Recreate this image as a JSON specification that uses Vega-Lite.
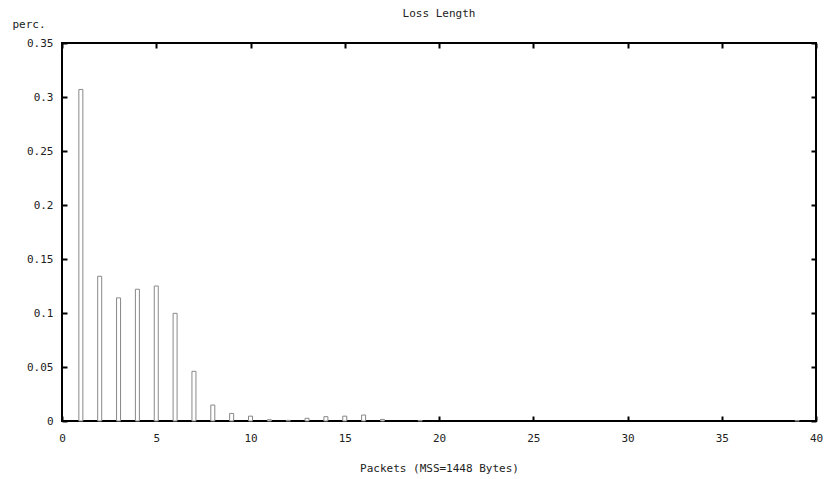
{
  "$schema": "https://vega.github.io/schema/vega-lite/v6.json",
  "autosize": "none",
  "padding": {"left": 62, "top": 43, "right": 8, "bottom": 58},
  "width": 754,
  "height": 378,
  "background": "white",
  "title": {"text": "Loss Length", "anchor": "middle", "offset": -1, "font": "DejaVu Sans Mono", "fontSize": 11, "fontWeight": "normal", "color": "#222"},
  "config": {
    "view": {"stroke": "black", "strokeWidth": 2},
    "axis": {"grid": false, "domain": false, "tickColor": "black", "tickWidth": 2, "tickSize": -5, "labelFlush": false, "labelFont": "DejaVu Sans Mono", "labelFontSize": 11, "labelColor": "#222", "titleFont": "DejaVu Sans Mono", "titleFontSize": 11, "titleFontWeight": "normal", "titleColor": "#222"}
  },
  "data": {"values": [
    {"packets": 1, "perc": 0.307},
    {"packets": 2, "perc": 0.134},
    {"packets": 3, "perc": 0.114},
    {"packets": 4, "perc": 0.122},
    {"packets": 5, "perc": 0.125},
    {"packets": 6, "perc": 0.0997},
    {"packets": 7, "perc": 0.046},
    {"packets": 8, "perc": 0.0148},
    {"packets": 9, "perc": 0.007},
    {"packets": 10, "perc": 0.0045},
    {"packets": 11, "perc": 0.0012},
    {"packets": 12, "perc": 0.0006},
    {"packets": 13, "perc": 0.0025},
    {"packets": 14, "perc": 0.004},
    {"packets": 15, "perc": 0.0045},
    {"packets": 16, "perc": 0.0055},
    {"packets": 17, "perc": 0.0015},
    {"packets": 19, "perc": 0.0005},
    {"packets": 39, "perc": 0.0005}
  ]},
  "layer": [
    {
      "mark": {"type": "bar", "size": 4, "fill": "white", "stroke": "#888", "strokeWidth": 1},
      "encoding": {
        "x": {"field": "packets", "type": "quantitative", "scale": {"domain": [0, 40], "nice": false, "padding": 0},
              "axis": {"orient": "bottom", "values": [0,5,10,15,20,25,30,35,40], "labelPadding": 16, "title": "Packets (MSS=1448 Bytes)", "titlePadding": 19}},
        "y": {"field": "perc", "type": "quantitative", "scale": {"domain": [0, 0.35], "nice": false},
              "axis": {"orient": "left", "values": [0,0.05,0.1,0.15,0.2,0.25,0.3,0.35], "format": ".2~f", "labelPadding": 14, "title": "perc.", "titleAngle": 0, "titleX": -50, "titleY": -16, "titleAlign": "left", "titleBaseline": "alphabetic"}}
      }
    },
    {
      "mark": {"type": "point", "opacity": 0},
      "encoding": {
        "x": {"field": "packets", "type": "quantitative", "axis": {"orient": "top", "values": [0,5,10,15,20,25,30,35,40], "labels": false, "title": null}},
        "y": {"field": "perc", "type": "quantitative", "axis": {"orient": "right", "values": [0,0.05,0.1,0.15,0.2,0.25,0.3,0.35], "labels": false, "title": null}}
      }
    }
  ],
  "resolve": {"axis": {"x": "independent", "y": "independent"}}
}
